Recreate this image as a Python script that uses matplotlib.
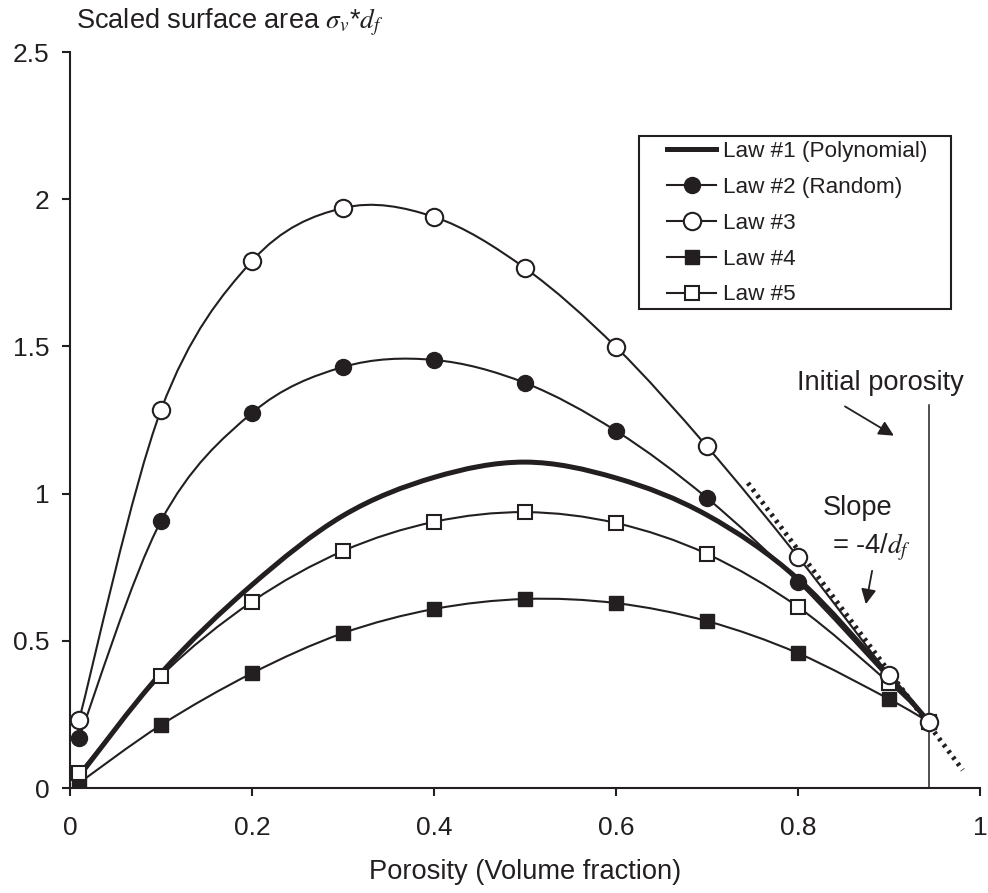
import numpy as np
import matplotlib
matplotlib.use("Agg")
import matplotlib.pyplot as plt
from matplotlib.path import Path
from matplotlib.patches import PathPatch, Rectangle
from matplotlib.lines import Line2D

# porosity values where the laws were evaluated
porosity = [0.01, 0.1, 0.2, 0.3, 0.4, 0.5, 0.6, 0.7, 0.8, 0.9, 0.944]

law1 = [0.04, 0.39, 0.69, 0.925, 1.055, 1.107, 1.053, 0.927, 0.71, 0.38, 0.224]
law2 = [0.17, 0.907, 1.274, 1.43, 1.454, 1.376, 1.213, 0.985, 0.70, 0.37, 0.224]
law3 = [0.231, 1.284, 1.79, 1.97, 1.94, 1.766, 1.498, 1.16, 0.785, 0.384, 0.224]
law4 = [0.017, 0.214, 0.39, 0.526, 0.608, 0.642, 0.628, 0.567, 0.458, 0.302, 0.224]
law5 = [0.051, 0.38, 0.633, 0.805, 0.904, 0.937, 0.90, 0.795, 0.615, 0.357, 0.224]

labels = ['Law #1 (Polynomial)', 'Law #2 (Random)', 'Law #3', 'Law #4', 'Law #5']

# tangent slope -4/df and initial porosity
slope_x = [0.745, 0.981]
slope_y = [1.036, 0.061]
init_por = 0.944
init_top = 1.30

ink = '#231f20'
plt.rcParams['font.family'] = ['Liberation Sans', 'DejaVu Sans']
plt.rcParams['mathtext.fontset'] = 'stix'


def smooth_path(x, y):
    # excel-like smoothed line: bezier segments, control points from neighbours
    p = np.column_stack([x, y]).astype(float)
    n = len(p)
    verts = [p[0]]
    codes = [Path.MOVETO]
    for i in range(n - 1):
        p0 = p[i - 1] if i > 0 else p[i]
        p3 = p[i + 2] if i + 2 < n else p[i + 1]
        c1 = p[i] + (p[i + 1] - p0) / 6.0
        c2 = p[i + 1] - (p3 - p[i]) / 6.0
        verts += [c1, c2, p[i + 1]]
        codes += [Path.CURVE4] * 3
    return Path(verts, codes)


fig = plt.figure(figsize=(9.88, 8.93), dpi=100)
ax = fig.add_axes([70 / 988, 1 - 788 / 893, 910 / 988, 736 / 893])

series = [law1, law2, law3, law4, law5]
widths = [3.6, 1.5, 1.5, 1.5, 1.5]
for s, w in zip(series, widths):
    ax.add_patch(PathPatch(smooth_path(porosity, s), fill=False, lw=w, ec=ink, zorder=3))

# markers
ax.plot(porosity, law2, ls='none', marker='o', ms=11.5, mfc=ink, mec=ink, zorder=4)
ax.plot(porosity, law3, ls='none', marker='o', ms=12.5, mfc='white', mec=ink, mew=1.5, zorder=5)
ax.plot(porosity, law4, ls='none', marker='s', ms=10, mfc=ink, mec=ink, zorder=4)
ax.plot(porosity, law5, ls='none', marker='s', ms=10, mfc='white', mec=ink, mew=1.5, zorder=4)

ax.plot(slope_x, slope_y, ls=(0, (0.6, 1.0)), lw=3.5, color=ink, zorder=2)
ax.plot([init_por, init_por], [0, init_top], color=ink, lw=1.1, zorder=2)

ax.set_xlim(0, 1)
ax.set_ylim(0, 2.5)
ax.set_xticks([0, 0.2, 0.4, 0.6, 0.8, 1])
ax.set_xticklabels(['0', '0.2', '0.4', '0.6', '0.8', '1'])
ax.set_yticks([0, 0.5, 1, 1.5, 2, 2.5])
ax.set_yticklabels(['0', '0.5', '1', '1.5', '2', '2.5'])
ax.spines['top'].set_visible(False)
ax.spines['right'].set_visible(False)
for sp in ['left', 'bottom']:
    ax.spines[sp].set_color(ink)
    ax.spines[sp].set_linewidth(1.5)
ax.tick_params(axis='both', colors=ink, labelsize=19, width=1.5, length=6, direction='out')
ax.tick_params(axis='x', pad=14)
ax.tick_params(axis='y', pad=9)
for lab in ax.get_xticklabels() + ax.get_yticklabels():
    lab.set_color(ink)

fig.text(525 / 988, 1 - 872 / 893, 'Porosity (Volume fraction)', ha='center', va='center',
         fontsize=19.6, color=ink)
fig.text(76 / 988, 1 - 22 / 893, r'Scaled surface area $\sigma_v$*$d_f$', ha='left', va='center',
         fontsize=19.6, color=ink)

# annotations
ax.text(0.890, 1.376, 'Initial porosity', ha='center', va='center', fontsize=19.6, color=ink)
ax.annotate('', xy=(0.908, 1.192), xytext=(0.849, 1.301),
            arrowprops=dict(arrowstyle='-|>,head_length=0.9,head_width=0.45', color=ink, lw=1.3))
ax.text(0.866, 0.951, 'Slope', ha='center', va='center', fontsize=19.6, color=ink)
ax.text(0.837, 0.818, r'= -4/$d_f$', ha='left', va='center', fontsize=19.6, color=ink)
ax.annotate('', xy=(0.874, 0.615), xytext=(0.882, 0.747),
            arrowprops=dict(arrowstyle='-|>,head_length=0.9,head_width=0.45', color=ink, lw=1.3))

handles = [
    Line2D([], [], color=ink, lw=3.6),
    Line2D([], [], color=ink, lw=1.5, marker='o', ms=11.5, mfc=ink, mec=ink),
    Line2D([], [], color=ink, lw=1.5, marker='o', ms=12.5, mfc='white', mec=ink, mew=1.5),
    Line2D([], [], color=ink, lw=1.5, marker='s', ms=10, mfc=ink, mec=ink),
    Line2D([], [], color=ink, lw=1.5, marker='s', ms=10, mfc='white', mec=ink, mew=1.5),
]
leg = ax.legend(handles, labels, loc='upper left', bbox_to_anchor=(0.656, 0.879), borderaxespad=0,
                fontsize=16.2, handlelength=2.2, handletextpad=0.3, labelspacing=0.66,
                frameon=False, borderpad=0)
for t in leg.get_texts():
    t.set_color(ink)

# legend box drawn by hand (wider side padding than top/bottom)
ax.add_patch(Rectangle((0.6253, 0.6508), 0.3429, 0.235, transform=ax.transAxes,
                       fill=False, ec=ink, lw=1.5, zorder=6))

plt.savefig('out.png', dpi=100)
